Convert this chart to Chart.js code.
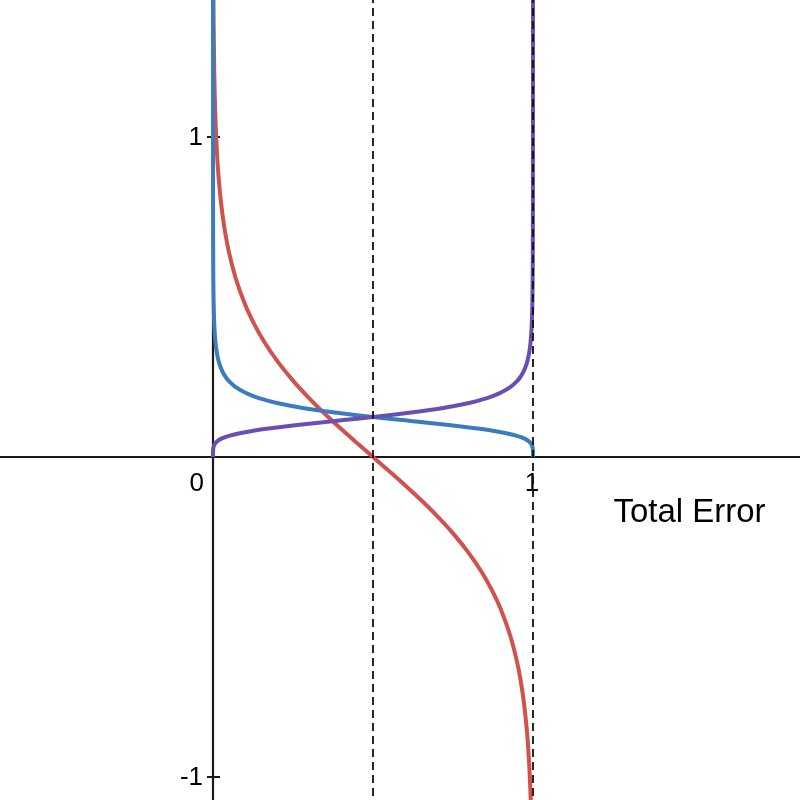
<!DOCTYPE html>
<html>
<head>
<meta charset="utf-8">
<title>Total Error</title>
<script src="https://cdn.jsdelivr.net/npm/chart.js@4"></script>
<style>
  html, body { margin: 0; padding: 0; background: #fff; }
  #wrap { width: 800px; height: 800px; }
</style>
</head>
<body>
<div id="wrap"><canvas id="errorChart" width="800" height="800"></canvas></div>
<script>
// total error values sampled along the x axis (dense near 0 and 1)
const errors = [0, 0.00001, 0.0001, 0.0005, 0.001, 0.002, 0.004, 0.007, 0.01, 0.015, 0.02, 0.03, 0.04, 0.05, 0.07,
  0.1, 0.13, 0.16, 0.2, 0.25, 0.3, 0.35, 0.4, 0.45, 0.5, 0.55, 0.6, 0.65, 0.7, 0.75, 0.8, 0.84, 0.87, 0.9,
  0.93, 0.95, 0.96, 0.97, 0.98, 0.985, 0.99, 0.993, 0.996, 0.998, 0.999, 0.9995, 0.9999, 0.99999, 1];

const redVals = [null, 2.5, 2.0, 1.6504, 1.4998, 1.3491, 1.1981, 1.0759, 0.9978, 0.9087, 0.8451, 0.7548, 0.6901, 0.6394, 0.5617,
  0.4771, 0.4128, 0.3601, 0.3010, 0.2386, 0.1840, 0.1344, 0.0880, 0.0436, 0, -0.0436, -0.0880, -0.1344, -0.1840, -0.2386, -0.3010, -0.3601, -0.4128, -0.4771,
  -0.5617, -0.6394, -0.6901, -0.7548, -0.8451, -0.9087, -0.9978, -1.0759, -1.1981, -1.3491, -1.4998, -1.6504, -2.0, -2.5, null];

const blueVals = [null, 1.523, 0.924, 0.651, 0.560, 0.4818, 0.4142, 0.3666, 0.3390, 0.3101, 0.2910, 0.2659, 0.2492, 0.2369, 0.2192,
  0.2014, 0.1889, 0.1792, 0.1689, 0.1587, 0.1503, 0.1430, 0.1365, 0.1306, 0.125, 0.1197, 0.1145, 0.1093, 0.1040, 0.09846, 0.09251, 0.0872, 0.08272, 0.07757,
  0.07128, 0.06596, 0.06269, 0.05877, 0.05369, 0.05038, 0.04609, 0.04262, 0.03772, 0.03243, 0.02790, 0.0240, 0.01692, 0.01026, 0];

const purpleVals = [0, 0.01026, 0.01692, 0.0240, 0.02790, 0.03243, 0.03772, 0.04262, 0.04609, 0.05038, 0.05369, 0.05877, 0.06269, 0.06596, 0.07128,
  0.07757, 0.08272, 0.0872, 0.09251, 0.09846, 0.1040, 0.1093, 0.1145, 0.1197, 0.125, 0.1306, 0.1365, 0.1430, 0.1503, 0.1587, 0.1689, 0.1792, 0.1889, 0.2014,
  0.2192, 0.2369, 0.2492, 0.2659, 0.2910, 0.3101, 0.3390, 0.3666, 0.4142, 0.4818, 0.560, 0.651, 0.924, 1.523, null];

const dashedX = [0.5, 1];
const xTicks = [0, 1];
const yTicks = [1, -1];
const xTitle = "Total Error";

document.addEventListener("DOMContentLoaded", function () {

  const ctx = document.getElementById("errorChart").getContext("2d");

  const pts = (vals) => errors.map((x, i) => ({ x: x, y: vals[i] }));

  const curve = (vals, color) => ({
    data: pts(vals),
    borderColor: color,
    borderWidth: 4,
    pointRadius: 0,
    cubicInterpolationMode: "monotone",
    spanGaps: false
  });

  const dashed = dashedX.map(x => ({
    data: [{ x: x, y: -5 }, { x: x, y: 5 }],
    borderColor: "#111",
    borderWidth: 1.8,
    borderDash: [8, 5],
    pointRadius: 0
  }));

  // axes crossing at the origin, with ticks and labels
  const axesPlugin = {
    id: "axes",
    beforeDatasetsDraw(chart) {
      const c = chart.ctx;
      const xs = chart.scales.x, ys = chart.scales.y;
      const ox = xs.getPixelForValue(0), oy = ys.getPixelForValue(0);
      c.save();
      c.strokeStyle = "#1a1a1a";
      c.lineWidth = 2.2;
      c.beginPath();
      c.moveTo(chart.chartArea.left, oy);
      c.lineTo(chart.chartArea.right, oy);
      c.moveTo(ox, chart.chartArea.top);
      c.lineTo(ox, chart.chartArea.bottom);
      yTicks.forEach(v => {
        const py = ys.getPixelForValue(v);
        c.moveTo(ox - 6, py);
        c.lineTo(ox + 7, py);
      });
      c.stroke();

      c.fillStyle = "#000";
      c.font = "26px 'Liberation Sans', Arial, sans-serif";
      c.textBaseline = "middle";
      c.textAlign = "right";
      yTicks.forEach(v => {
        c.fillText(String(v), ox - 10, ys.getPixelForValue(v) + 1);
      });
      c.textBaseline = "top";
      xTicks.forEach(v => {
        const px = xs.getPixelForValue(v);
        if (v === 0) {
          c.textAlign = "right";
          c.fillText("0", px - 9, oy + 14);
        } else {
          c.textAlign = "center";
          c.fillText(String(v), px - 1, oy + 14);
        }
      });

      c.font = "33px 'Liberation Sans', Arial, sans-serif";
      c.textAlign = "center";
      c.textBaseline = "middle";
      c.fillText(xTitle, xs.getPixelForValue(1.489), ys.getPixelForValue(-0.175));
      c.restore();
    }
  };

  new Chart(ctx, {
    type: "scatter",
    data: {
      datasets: [
        ...dashed,
        curve(purpleVals, "#6a4fb3"),
        curve(blueVals, "#3b7cc1"),
        curve(redVals, "#cf524c")
      ].map(d => Object.assign({ showLine: true }, d))
    },
    options: {
      responsive: false,
      animation: false,
      layout: { padding: 0 },
      plugins: {
        legend: { display: false },
        tooltip: { enabled: false }
      },
      scales: {
        x: { type: "linear", min: -0.665625, max: 1.834375, display: false },
        y: { type: "linear", min: -1.071875, max: 1.428125, display: false }
      }
    },
    plugins: [axesPlugin]
  });
});
</script>
</body>
</html>
